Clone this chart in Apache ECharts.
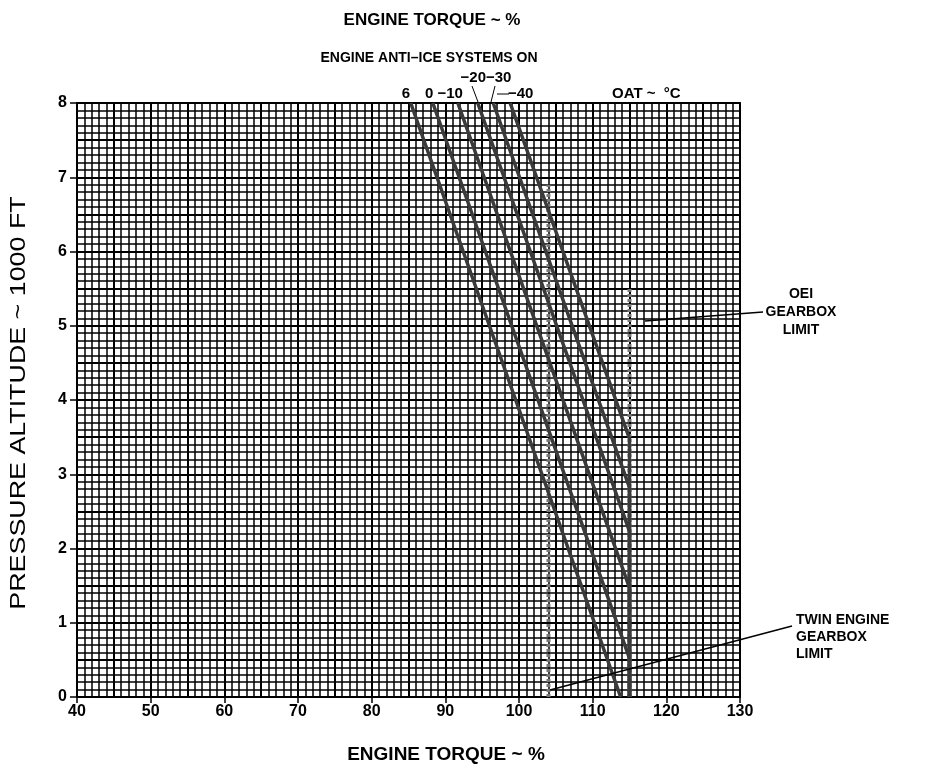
<!DOCTYPE html>
<html><head><meta charset="utf-8">
<script src="https://cdn.jsdelivr.net/npm/echarts@6/dist/echarts.min.js"></script>
<style>html,body{margin:0;padding:0;background:#fff}#c{width:929px;height:771px}</style>
</head><body><div id="c"></div>
<script>
// ---- data (torque %, pressure altitude 1000 ft) ----
const xTicks = [40, 50, 60, 70, 80, 90, 100, 110, 120, 130];
const yTicks = [0, 1, 2, 3, 4, 5, 6, 7, 8];
const oatNames = ['6', '0', '−10', '−20', '−30', '−40'];
const oat6   = [[85.3, 8], [113.8, 0]];
const oat0   = [[88.3, 8], [115, 0.52], [115, 0]];
const oatM10 = [[91.7, 8], [115, 1.47], [115, 0]];
const oatM20 = [[94.4, 8], [115, 2.23], [115, 0]];
const oatM30 = [[96.5, 8], [115, 2.82], [115, 0]];
const oatM40 = [[98.8, 8], [115, 3.48], [115, 0]];
const twinLimit = [[104, 0], [104, 6.9]];
const oeiLimit  = [[115, 0], [115, 5.5]];

const chart = echarts.init(document.getElementById('c'), null, {renderer: 'canvas'});
const FONT = 'Liberation Sans, Arial, sans-serif';
const oatSeries = [oat6, oat0, oatM10, oatM20, oatM30, oatM40].map((d, i) => ({
  type: 'line', name: oatNames[i], data: d, xAxisIndex: 0, yAxisIndex: 0,
  symbol: 'none', lineStyle: {color: '#3a3a3a', width: 3.5}, z: 5, silent: true
}));
const option = {
  animation: false,
  backgroundColor: '#fff',
  grid: {left: 77, right: 189, top: 103, bottom: 74, containLabel: false},
  xAxis: [{
    type: 'value', min: 40, max: 130, interval: 10,
    axisLine: {show: true, onZero: false, lineStyle: {color: '#000', width: 2}},
    axisTick: {show: true, length: 6, lineStyle: {color: '#000', width: 1.5}},
    axisLabel: {color: '#000', fontFamily: FONT, fontSize: 16, fontWeight: 'bold', margin: 7,
      formatter: v => xTicks.includes(v) ? String(v) : ''},
    splitLine: {show: true, lineStyle: {color: '#000', width: 2}},
    minorTick: {show: true, splitNumber: 10, length: 0},
    minorSplitLine: {show: true, lineStyle: {color: '#000', width: 1.5}}
  }, {
    type: 'value', min: 40, max: 130, interval: 5, show: true, position: 'top',
    axisLine: {show: true, onZero: false, lineStyle: {color: '#000', width: 2}},
    axisTick: {show: false}, axisLabel: {show: false},
    splitLine: {show: true, lineStyle: {color: '#000', width: 2}}
  }],
  yAxis: [{
    type: 'value', min: 0, max: 8, interval: 1,
    axisLine: {show: true, onZero: false, lineStyle: {color: '#000', width: 2}},
    axisTick: {show: true, length: 7, lineStyle: {color: '#000', width: 1.5}},
    axisLabel: {color: '#000', fontFamily: FONT, fontSize: 16, fontWeight: 'bold', margin: 10,
      formatter: v => yTicks.includes(v) ? String(v) : ''},
    splitLine: {show: true, lineStyle: {color: '#000', width: 2.2}},
    minorTick: {show: true, splitNumber: 10, length: 0},
    minorSplitLine: {show: true, lineStyle: {color: '#000', width: 1.6}}
  }, {
    type: 'value', min: 0, max: 8, interval: 0.5, position: 'right',
    axisLine: {show: true, onZero: false, lineStyle: {color: '#000', width: 2}},
    axisTick: {show: false}, axisLabel: {show: false},
    splitLine: {show: true, lineStyle: {color: '#000', width: 2}}
  }],
  series: [
    ...oatSeries,
    {type: 'line', name: 'TWIN ENGINE GEARBOX LIMIT', data: twinLimit, symbol: 'none', z: 4, silent: true,
     lineStyle: {color: '#777', width: 4, type: [3, 2]}},
    {type: 'line', name: 'OEI GEARBOX LIMIT', data: oeiLimit, symbol: 'none', z: 4, silent: true,
     lineStyle: {color: '#777', width: 4, type: [3, 2]}}
  ],
  graphic: [
    {type: 'text', x: 432, y: 20, style: {text: 'ENGINE TORQUE ~ %', font: 'bold 17px ' + FONT, fill: '#000', align: 'center', verticalAlign: 'middle'}},
    {type: 'text', x: 429, y: 58, style: {text: 'ENGINE ANTI–ICE SYSTEMS ON', font: 'bold 14px ' + FONT, fill: '#000', align: 'center', verticalAlign: 'middle'}},
    {type: 'text', x: 486, y: 78, style: {text: '−20−30', font: 'bold 15px ' + FONT, fill: '#000', align: 'center', verticalAlign: 'middle'}},
    {type: 'text', x: 406, y: 94, style: {text: '6', font: 'bold 15px ' + FONT, fill: '#000', align: 'center', verticalAlign: 'middle'}},
    {type: 'text', x: 425, y: 94, style: {text: '0 −10', font: 'bold 15px ' + FONT, fill: '#000', align: 'left', verticalAlign: 'middle'}},
    {type: 'text', x: 508, y: 94, style: {text: '−40', font: 'bold 15px ' + FONT, fill: '#000', align: 'left', verticalAlign: 'middle'}},
    {type: 'text', x: 612, y: 94, style: {text: 'OAT ~  °C', font: 'bold 15px ' + FONT, fill: '#000', align: 'left', verticalAlign: 'middle'}},
    {type: 'line', shape: {x1: 472, y1: 86, x2: 478, y2: 102}, style: {stroke: '#000', lineWidth: 1}},
    {type: 'line', shape: {x1: 495, y1: 86, x2: 491, y2: 102}, style: {stroke: '#000', lineWidth: 1}},
    {type: 'line', shape: {x1: 497, y1: 94, x2: 509, y2: 94}, style: {stroke: '#000', lineWidth: 1}},
    {type: 'text', x: 446, y: 755, style: {text: 'ENGINE TORQUE ~ %', font: 'bold 19px ' + FONT, fill: '#000', align: 'center', verticalAlign: 'middle'}},
    {type: 'text', x: 19, y: 403, rotation: Math.PI / 2, scaleX: 1.22,
     style: {text: 'PRESSURE ALTITUDE ~ 1000 FT', font: '22px ' + FONT, fill: '#000', align: 'center', verticalAlign: 'middle'}},
    {type: 'text', x: 801, y: 312, style: {text: 'OEI\nGEARBOX\nLIMIT', font: 'bold 14px ' + FONT, fill: '#000', align: 'center', verticalAlign: 'middle', lineHeight: 18}},
    {type: 'text', x: 796, y: 637, style: {text: 'TWIN ENGINE\nGEARBOX\nLIMIT', font: 'bold 14px ' + FONT, fill: '#000', align: 'left', verticalAlign: 'middle', lineHeight: 17}},
    {type: 'line', shape: {x1: 763, y1: 312, x2: 645, y2: 321}, style: {stroke: '#000', lineWidth: 1.5}, z: 10},
    {type: 'line', shape: {x1: 792, y1: 626, x2: 550, y2: 690}, style: {stroke: '#000', lineWidth: 1.5}, z: 10}
  ]
};
chart.setOption(option);
</script></body></html>
